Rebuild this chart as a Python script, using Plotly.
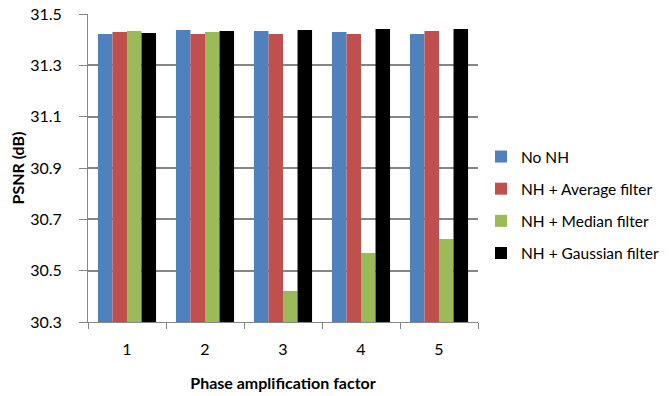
import plotly.graph_objects as go

categories = ["1", "2", "3", "4", "5"]
series_names = ["No NH", "NH + Average filter", "NH + Median filter", "NH + Gaussian filter"]
no_nh = [31.422, 31.438, 31.434, 31.430, 31.422]
avg_filter = [31.430, 31.422, 31.422, 31.422, 31.434]
median_filter = [31.434, 31.430, 30.421, 30.569, 30.623]
gaussian_filter = [31.426, 31.434, 31.438, 31.442, 31.442]
colors = ["#4F81BD", "#C0504D", "#9BBB59", "#000000"]
y_ticks = [30.3, 30.5, 30.7, 30.9, 31.1, 31.3, 31.5]

font = "Lato, Open Sans, sans-serif"
fig = go.Figure()
for i, (name, vals) in enumerate(zip(series_names, [no_nh, avg_filter, median_filter, gaussian_filter])):
    fig.add_trace(go.Bar(x=categories, y=vals, name=name, marker_color=colors[i],
                         marker_line_width=0, legendgroup=f"g{i}"))

W, L, R = 669, 88, 0
paper_w = W - L - R
fig.update_layout(
    width=W, height=396,
    margin=dict(l=L, r=R, t=14, b=74),
    plot_bgcolor="white", paper_bgcolor="white",
    barmode="group", bargap=0.255, bargroupgap=0,
    font=dict(family=font, size=16, color="#000000"),
    legend=dict(x=(481 - L) / paper_w, y=0.38, xanchor="left", yanchor="middle",
                tracegroupgap=9, font=dict(size=15.5, family=font),
                itemwidth=30),
    xaxis=dict(
        domain=[0, 390 / paper_w],
        title=dict(text="<b>Phase amplification factor</b>", font=dict(size=16), standoff=20),
        showline=True, linecolor="#868686", linewidth=1,
        ticks="outside", tickson="boundaries", ticklen=6, tickcolor="#868686",
        ticklabelstandoff=13, automargin=False,
        showgrid=False,
    ),
    yaxis=dict(
        title=dict(text="<b>PSNR (dB)</b>", font=dict(size=16), standoff=1),
        range=[30.3, 31.5], tickvals=y_ticks, ticktext=[f"{v:.1f}" for v in y_ticks],
        showline=True, linecolor="#868686", linewidth=1,
        ticks="outside", ticklen=8, tickcolor="#868686",
        ticklabelstandoff=14, automargin=False,
        showgrid=True, gridcolor="#868686", gridwidth=1.5,
        zeroline=False,
    ),
)

fig.write_html("out.html")
